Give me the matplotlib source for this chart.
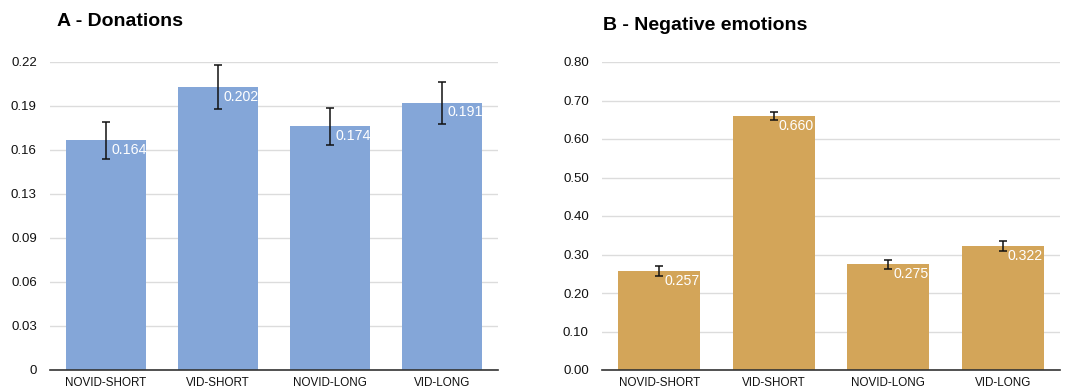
import numpy as np
import matplotlib
matplotlib.use("Agg")
import matplotlib.pyplot as plt

plt.rcParams['font.family'] = ['Liberation Sans', 'DejaVu Sans']

groups = ['NOVID-SHORT', 'VID-SHORT', 'NOVID-LONG', 'VID-LONG']
donations = [0.164, 0.202, 0.174, 0.191]
donations_err = [0.013, 0.0155, 0.013, 0.015]
negative = [0.257, 0.660, 0.275, 0.322]
negative_err = [0.012, 0.010, 0.012, 0.012]

blue = '#84A6D8'
tan = '#D3A559'


def panel(ax, vals, errs, color, ymax, ticks, ticklabels, label_off):
    x = np.arange(len(vals))
    ax.bar(x, vals, width=0.715, color=color, zorder=2)
    ax.errorbar(x, vals, yerr=errs, fmt='none', ecolor='#111111',
                elinewidth=1.1, capsize=3, capthick=1.1, zorder=3)
    for xi, v in zip(x, vals):
        ax.text(xi + 0.045, v - label_off, '%.3f' % v, color='white',
                fontsize=10.2, ha='left', va='center', zorder=4)
    ax.set_xlim(-0.5, len(vals) - 0.5)
    ax.set_ylim(0, ymax)
    ax.set_yticks(ticks)
    ax.set_yticklabels(ticklabels)
    ax.set_xticks(x)
    ax.set_xticklabels(groups)
    ax.grid(axis='y', color='#dcdcdc', linewidth=1, zorder=0)
    for s in ['top', 'right', 'left']:
        ax.spines[s].set_visible(False)
    ax.spines['bottom'].set_color('#333333')
    ax.spines['bottom'].set_linewidth(1.2)
    ax.tick_params(axis='both', length=0, colors='#111111')
    ax.tick_params(axis='y', labelsize=9.5, pad=9.5)
    ax.tick_params(axis='x', labelsize=8.4, pad=5)


fig = plt.figure(figsize=(10.72, 3.9), dpi=100)
ax1 = fig.add_axes([50 / 1072, 20 / 390, 448 / 1072, 308 / 390])
ax2 = fig.add_axes([602 / 1072, 20 / 390, 458 / 1072, 308 / 390])

t1 = np.linspace(0, 0.22, 8)
panel(ax1, donations, donations_err, blue, 0.22, t1,
      ['0', '0.03', '0.06', '0.09', '0.13', '0.16', '0.19', '0.22'], 0.007)
t2 = np.linspace(0, 0.8, 9)
panel(ax2, negative, negative_err, tan, 0.8, t2,
      ['%.2f' % t for t in t2], 0.026)

title_font = ['Liberation Sans Narrow', 'Liberation Sans', 'DejaVu Sans']
fig.text(57 / 1072, 1 - 21 / 390, 'A - Donations', fontsize=14,
         fontweight='bold', family=title_font, va='center', ha='left')
fig.text(603 / 1072, 1 - 25.5 / 390, 'B - Negative emotions', fontsize=14,
         fontweight='bold', family=title_font, va='center', ha='left')

fig.savefig('out.png', dpi=100)
